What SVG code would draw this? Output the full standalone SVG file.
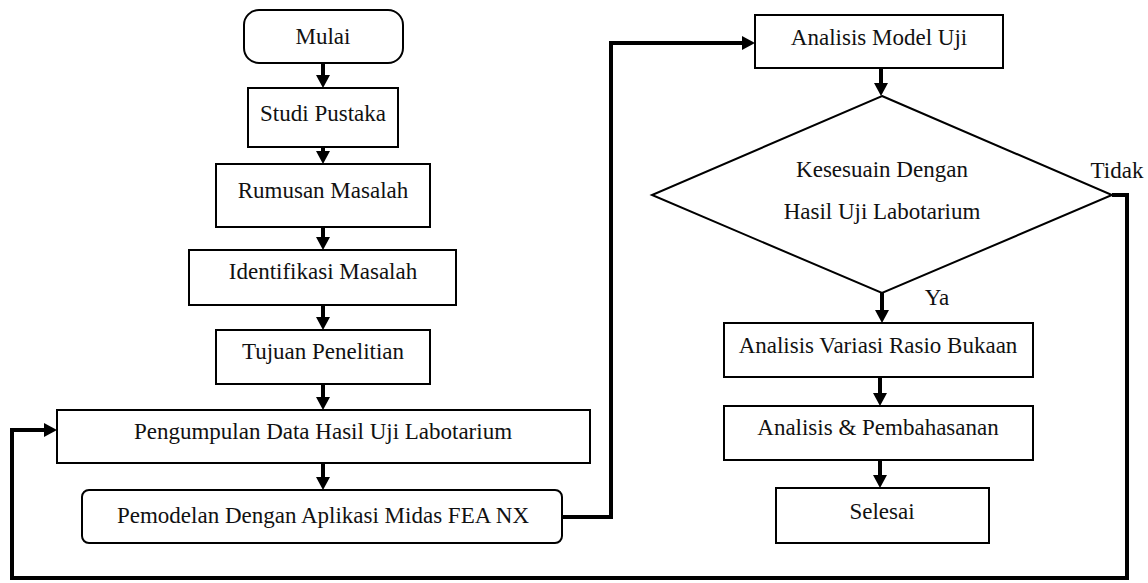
<svg xmlns="http://www.w3.org/2000/svg" width="1148" height="583" viewBox="0 0 1148 583">
<style>
.box{fill:#fff;stroke:#000;stroke-width:2}
.t{font-family:'Liberation Serif',Tinos,'Times New Roman','DejaVu Serif',serif;font-size:23px;fill:#111;text-anchor:middle}
.c{fill:none;stroke:#000;stroke-width:4;stroke-linejoin:miter}
.a{fill:none;stroke:#000;stroke-width:4}
</style>
<defs>
<marker id="arr" markerUnits="userSpaceOnUse" markerWidth="15" markerHeight="15" refX="1" refY="7" orient="auto">
<path d="M0,0 L13,7 L0,14 z" fill="#000"/>
</marker>
</defs>
<rect width="1148" height="583" fill="#fff"/>
<g id="connectors">
<line class="a" x1="323" y1="63" x2="323" y2="76" marker-end="url(#arr)"/>
<line class="a" x1="323" y1="147" x2="323" y2="152" marker-end="url(#arr)"/>
<line class="a" x1="323" y1="227" x2="323" y2="238" marker-end="url(#arr)"/>
<line class="a" x1="323" y1="305" x2="323" y2="318" marker-end="url(#arr)"/>
<line class="a" x1="323" y1="384" x2="323" y2="398" marker-end="url(#arr)"/>
<line class="a" x1="323" y1="463" x2="323" y2="478" marker-end="url(#arr)"/>
<polyline class="c" points="562,517 611,517 611,43 743,43" marker-end="url(#arr)"/>
<line class="a" x1="881" y1="68" x2="881" y2="84" marker-end="url(#arr)"/>
<line class="a" x1="882" y1="293" x2="882" y2="311" marker-end="url(#arr)"/>
<line class="a" x1="880" y1="377" x2="880" y2="394" marker-end="url(#arr)"/>
<line class="a" x1="880" y1="460" x2="880" y2="476" marker-end="url(#arr)"/>
<polyline class="c" points="1112,195 1127,195 1127,578 12,578 12,430 45,430" marker-end="url(#arr)"/>
<text class="t" x="1117" y="178">Tidak</text>
<text class="t" x="937" y="305">Ya</text>
</g>
<g id="mulai"><rect class="box" x="244" y="10" width="159" height="53" rx="15"/><text class="t" x="323" y="44">Mulai</text></g>
<g id="studi"><rect class="box" x="248" y="88" width="150" height="59"/><text class="t" x="323" y="121">Studi Pustaka</text></g>
<g id="rumusan"><rect class="box" x="216" y="164" width="214" height="63"/><text class="t" x="323" y="198">Rumusan Masalah</text></g>
<g id="identifikasi"><rect class="box" x="189" y="250" width="267" height="55"/><text class="t" x="323" y="279">Identifikasi Masalah</text></g>
<g id="tujuan"><rect class="box" x="216" y="330" width="214" height="54"/><text class="t" x="323" y="359">Tujuan Penelitian</text></g>
<g id="pengumpulan"><rect class="box" x="57" y="410" width="533" height="53"/><text class="t" x="323" y="439">Pengumpulan Data Hasil Uji Labotarium</text></g>
<g id="pemodelan"><rect class="box" x="82" y="490" width="480" height="53" rx="7"/><text class="t" x="323" y="523">Pemodelan Dengan Aplikasi Midas FEA NX</text></g>
<g id="analisis-model"><rect class="box" x="755" y="15" width="248" height="53"/><text class="t" x="879" y="45">Analisis Model Uji</text></g>
<g id="kesesuaian"><polygon class="box" points="882,96 1112,195 882,293 652,195"/><text class="t" x="882" y="177">Kesesuain Dengan</text><text class="t" x="882" y="219">Hasil Uji Labotarium</text></g>
<g id="variasi"><rect class="box" x="724" y="323" width="309" height="54"/><text class="t" x="878" y="353">Analisis Variasi Rasio Bukaan</text></g>
<g id="pembahasan"><rect class="box" x="724" y="406" width="309" height="54"/><text class="t" x="878" y="435">Analisis &amp; Pembahasanan</text></g>
<g id="selesai"><rect class="box" x="776" y="488" width="213" height="55"/><text class="t" x="882" y="519">Selesai</text></g>
</svg>
